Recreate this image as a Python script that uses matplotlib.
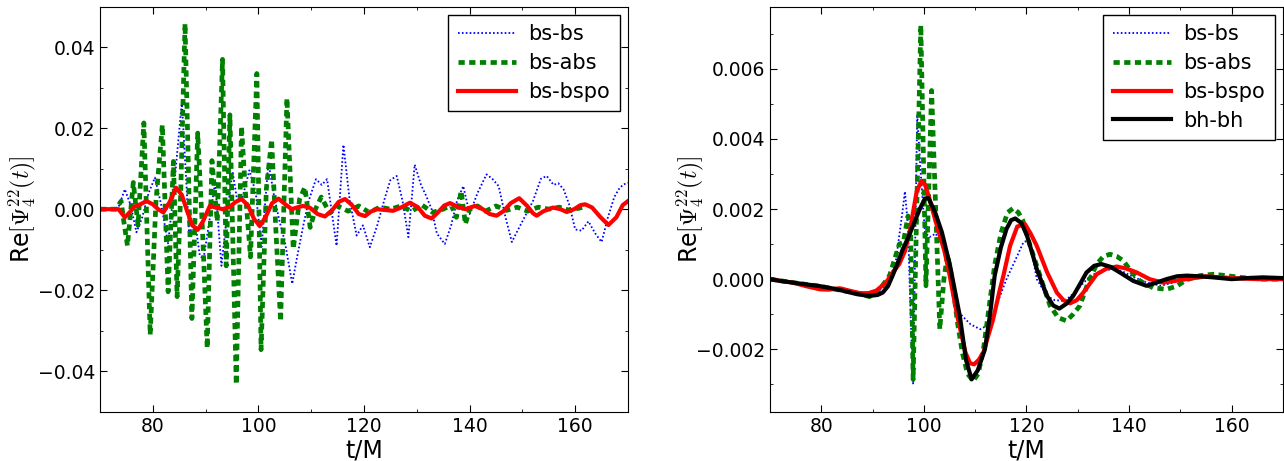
import matplotlib
matplotlib.use("Agg")
import matplotlib.pyplot as plt

plt.rcParams['font.family'] = ['DejaVu Sans']
plt.rcParams['mathtext.fontset'] = 'cm'
plt.rcParams['lines.scale_dashes'] = False

# ---- left panel: boson star runs ----
t_bs_L = [70, 72, 73.5, 74.7, 75.8, 76.9, 78.0, 79.2, 80.4, 81.6, 82.9, 84.2, 85.5, 86.2, 86.9,
          87.9, 88.9, 89.6, 90.7, 91.8, 93.0, 94.0, 95.1, 96.0, 97.0, 98.3, 99.5, 100.6, 101.9,
          103.0, 104.0, 105.0, 106.4, 107.3, 108.5, 109.5, 110.9, 112.0, 113.0, 114.8, 116.1,
          117.3, 118.6, 119.8, 121.1, 122.5, 124.0, 125.0, 126.2, 127.3, 128.4, 129.6, 130.8,
          131.8, 132.8, 133.8, 135.3, 136.5, 137.6, 138.8, 140.0, 141.5, 143.2, 144.3, 145.5,
          146.8, 148.0, 149.2, 150.4, 152.0, 153.5, 154.6, 155.9, 156.8, 157.8, 158.9, 160.0,
          161.2, 162.5, 163.8, 165.0, 166.2, 167.4, 168.3, 169.1, 170.0]
y_bs_L = [0.0, 0.0, 0.0005, 0.0049, 0.001, -0.0057, -0.002, 0.004, 0.0078, 0.001, -0.0086, 0.008,
          0.0265, 0.01, -0.0066, -0.002, -0.0115, -0.0123, -0.003, 0.0066, -0.014, -0.002, 0.0093,
          0.002, 0.003, 0.0096, 0.004, -0.0093, 0.0115, 0.003, -0.003, -0.008, -0.0184, -0.012,
          -0.004, 0.002, 0.0074, 0.006, 0.0074, -0.009, 0.0159, 0.002, -0.0065, -0.004, -0.0094,
          -0.004, 0.003, 0.0072, 0.0082, 0.002, -0.0069, 0.011, 0.006, 0.0032, 0.0, -0.006, -0.0086,
          -0.004, 0.002, 0.0057, -0.0012, 0.004, 0.0086, 0.0075, 0.0057, -0.002, -0.0081, -0.005,
          -0.002, 0.002, 0.0075, 0.0082, 0.006, 0.0064, 0.0049, 0.001, -0.005, -0.0053, -0.003,
          -0.006, -0.0081, -0.002, 0.003, 0.005, 0.0061, 0.0065]

t_abs_L = [70, 73, 74.0, 74.5, 75.2, 76.3, 77.2, 78.3, 79.5, 80.6, 81.8, 82.9, 83.9, 84.6, 85.3,
           86.1, 87.4, 88.5, 89.4, 90.3, 91.2, 92.2, 93.2, 93.9, 94.6, 95.8, 96.8, 97.6, 98.5,
           99.7, 100.5, 101.5, 102.5, 103.3, 104.2, 105.4, 106.6, 107.8, 108.8, 109.8, 110.8,
           111.9, 113.5, 115, 117, 119, 121, 123, 125, 127, 129, 131, 133, 135, 136.5, 137.5,
           138.4, 139.2, 140.0, 141.5, 143, 145, 147, 149, 151, 153, 155, 157, 159, 161.5]
y_abs_L = [0.0, 0.0, 0.002, -0.003, -0.009, 0.0066, -0.004, 0.0213, -0.031, 0.002, 0.0208, -0.0204,
           0.0118, -0.0216, 0.005, 0.0458, -0.027, 0.0188, -0.005, -0.0343, 0.012, -0.003, 0.037,
           -0.014, 0.0233, -0.0433, 0.0204, 0.003, -0.0118, 0.0335, -0.0347, 0.005, 0.0172, -0.005,
           -0.0277, 0.0274, -0.0098, 0.0025, 0.0054, -0.0045, 0.0, 0.003, -0.001, 0.0008, -0.0005,
           0.0008, -0.0008, 0.0005, 0.0, 0.0008, -0.0005, 0.001, -0.0008, 0.0, 0.001, -0.002,
           0.0045, -0.0037, 0.0, 0.0008, -0.0005, 0.0008, -0.0003, 0.0005, -0.0005, 0.0005, 0.0,
           0.0005, -0.0003, 0.0005]

t_bspo_L = [70, 73.5, 74.7, 75.6, 76.5, 77.6, 78.8, 80.0, 81.0, 82.0, 83.2, 84.4, 85.5, 86.5, 87.5,
            88.5, 89.5, 90.8, 92.0, 93.2, 94.5, 95.7, 96.8, 98.0, 99.2, 100.3, 101.4, 102.6, 103.8,
            105.0, 106.3, 107.5, 108.5, 109.8, 111.2, 112.6, 114.0, 115.2, 116.4, 117.6, 119.0,
            120.2, 121.3, 122.4, 124.0, 125.5, 127.0, 128.7, 130.2, 131.5, 132.8, 134.0, 135.2,
            136.3, 137.7, 139.2, 141.0, 142.5, 143.8, 145.1, 146.4, 147.8, 149.4, 150.9, 152.0,
            152.7, 154.0, 155.8, 157.2, 158.4, 159.8, 161.0, 161.9, 163.2, 164.8, 166.3, 167.8,
            169.0, 170.0]
y_bspo_L = [0.0, 0.0, -0.002, -0.0008, 0.0006, 0.0012, 0.002, 0.0012, 0.0, -0.0008, 0.0018, 0.0053,
            0.0035, -0.0005, -0.004, -0.0051, -0.003, 0.0008, 0.0004, 0.0, 0.0005, 0.0018, 0.0025,
            0.001, -0.0025, -0.0041, -0.0018, 0.0015, 0.0026, 0.0013, 0.0, 0.0005, 0.0008, 0.0003,
            -0.0012, -0.0018, -0.0002, 0.0018, 0.0025, 0.0012, -0.0012, -0.0017, -0.0006, 0.0,
            -0.0002, -0.0004, 0.0004, 0.0016, 0.0005, -0.0016, -0.0023, -0.0008, 0.0009, 0.0015,
            0.0006, 0.0, 0.0008, 0.0, -0.0012, -0.0016, -0.0005, 0.0015, 0.0027, 0.0008, -0.001,
            -0.0016, -0.0005, 0.0004, 0.0, -0.0007, 0.0, 0.001, 0.0012, 0.0004, -0.002, -0.0039,
            -0.002, 0.001, 0.002]

# ---- right panel: with black hole reference ----
t_bs_R = [70, 74.5, 79.7, 84.2, 87.5, 89.4, 91.5, 93.0, 94.5, 95.8, 96.3, 96.9, 97.4, 97.9, 98.3,
          98.7, 99.3, 100.2, 101.1, 102.3, 103.6, 105.2, 106.8, 109.1, 111.0, 112.6, 113.5, 114.8,
          116.1, 118.0, 119.4, 120.2, 121.0, 122.0, 124.0, 125.5, 127.3, 128.5, 129.9, 132.5,
          135.0, 137.1, 139.0, 141.0, 143.5, 146.2, 148.5, 151.4, 156.5, 160, 165, 170]
y_bs_R = [0.0, -0.0001, -0.0002, -0.00033, -0.0004, -0.00048, -0.0003, -0.0001, 0.00048, 0.0019,
          0.0025, 0.0015, -0.001, -0.003, 0.001, 0.0047, 0.0032, 0.00133, 0.0012, 0.0013, 0.00095,
          0.0001, -0.00095, -0.00129, -0.00143, -0.0013, -0.001, -0.0005, 0.0, 0.0006, 0.00105,
          0.0011, 0.0008, 0.0, -0.00048, -0.0006, -0.00062, -0.0005, -0.00029, 0.0001, 0.00025,
          0.00029, 0.0002, 0.00005, -0.0001, -0.00019, -0.0001, 0.0, 0.00005, 0.0, 0.0, 0.0]

t_abs_R = [70, 74.5, 79.7, 84.2, 87, 89.4, 91.4, 93.3, 95.2, 96.0, 96.9, 97.4, 97.9, 98.6, 99.4,
           100.4, 101.5, 102.3, 103.1, 103.9, 104.6, 105.5, 106.5, 107.5, 108.5, 109.6, 110.6,
           111.7, 112.7, 113.8, 115.0, 116.3, 117.4, 118.4, 119.3, 120.6, 122.0, 123.3, 124.6,
           126.2, 127.8, 129.1, 130.4, 132.0, 133.7, 135.0, 136.3, 137.6, 138.9, 140.5, 142.1,
           144.7, 147.3, 149.3, 151.2, 153.8, 156.4, 159, 161.6, 166.1, 170]
y_abs_R = [0.0, -0.0001, -0.0002, -0.00033, -0.0004, -0.0005, -0.00029, 0.0001, 0.001, 0.00105,
           0.0018, 0.0015, -0.00286, 0.002, 0.00724, -0.00019, 0.00538, 0.002, -0.00143, 0.0,
           0.0007, 0.0, -0.0012, -0.0021, -0.0027, -0.0029, -0.0027, -0.0019, -0.0008, 0.0004,
           0.0013, 0.0019, 0.00202, 0.0019, 0.00167, 0.001, 0.00038, -0.0002, -0.00076, -0.0011,
           -0.00119, -0.001, -0.00076, -0.0001, 0.00043, 0.00065, 0.00071, 0.00065, 0.00052,
           0.0002, -0.00005, -0.00025, -0.00029, -0.0002, -0.00002, 0.0001, 0.00014, 0.0001,
           0.00005, 0.0, 0.0]

t_bspo_R = [70, 72, 74.5, 77, 79.7, 81.5, 83.6, 85.5, 87.5, 89.2, 90.7, 92.6, 94.0, 95.2, 96.3,
            97.2, 98.0, 98.6, 99.5, 100.2, 100.9, 102.0, 102.9, 104.0, 104.9, 106.5, 108.1, 109.0,
            109.8, 110.7, 111.6, 113.5, 114.8, 115.5, 116.8, 118.2, 119.7, 120.8, 122.0, 124.0,
            125.9, 127.2, 128.5, 129.8, 131.1, 133.7, 135.6, 137.6, 139.5, 141.5, 144, 146.6, 149,
            151.2, 155, 160, 165, 170]
y_bspo_R = [0.0, -0.00005, -0.0001, -0.0002, -0.00029, -0.0003, -0.00026, -0.00033, -0.0004,
            -0.0004, -0.00033, -0.0001, 0.0002, 0.00043, 0.0008, 0.00133, 0.002, 0.0025, 0.0028,
            0.0027, 0.00238, 0.0018, 0.00134, 0.0008, 0.0002, -0.00105, -0.00209, -0.0024,
            -0.00243, -0.0023, -0.00209, -0.00114, -0.0003, 0.0001, 0.00095, 0.0015, 0.00157,
            0.0013, 0.00095, 0.0002, -0.00038, -0.0006, -0.00069, -0.0006, -0.00038, 0.00014,
            0.0003, 0.00036, 0.0003, 0.00019, 0.0, -0.0001, -0.00005, 0.0, 0.00008, 0.00003, 0.0, 0.0]

t_bh_R = [70, 72, 74.5, 77, 79.7, 82, 84.2, 87, 89.4, 91, 92, 93, 93.9, 95, 95.9, 97, 97.8, 99.2,
          100.2, 100.9, 102.2, 103.5, 105.1, 107.0, 108.2, 109.3, 110.5, 111.9, 112.9, 113.8,
          115.0, 116.1, 117.0, 117.8, 119.0, 120.1, 121.0, 122.0, 123.0, 124.0, 125.2, 126.4,
          127.8, 129.1, 130.4, 131.7, 133.2, 134.6, 136.4, 138.2, 140.8, 143.4, 145.3, 147.3,
          149.3, 151.2, 153.8, 156.4, 160, 163, 166, 170]
y_bh_R = [0.0, -0.00005, -0.0001, -0.00015, -0.0002, -0.00026, -0.00033, -0.00043, -0.00048,
          -0.00045, -0.00038, -0.0002, 0.0001, 0.0005, 0.00086, 0.0012, 0.0015, 0.002, 0.0023,
          0.00231, 0.0019, 0.00134, 0.00038, -0.00105, -0.0023, -0.00286, -0.0026, -0.002, -0.001,
          0.0001, 0.0009, 0.00143, 0.00168, 0.00173, 0.0016, 0.00124, 0.0008, 0.00029, -0.0001,
          -0.00048, -0.00075, -0.00084, -0.0007, -0.00048, -0.00015, 0.00019, 0.00038, 0.00043,
          0.00035, 0.00019, -0.00005, -0.00019, -0.0001, 0.0, 0.00008, 0.0001, 0.00008, 0.00005,
          0.0, 0.00003, 0.00005, 0.00003]

ylab = r'Re$[\Psi_4^{22}(t)]$'

fig = plt.figure(figsize=(12.84, 4.61), dpi=100)
ax1 = fig.add_axes([0.0779, 0.107, 0.4112, 0.8785])
ax2 = fig.add_axes([0.5997, 0.107, 0.3995, 0.8785])

blue_kw = dict(color='blue', lw=1.3, dashes=(1.2, 1.6))
green_kw = dict(color='green', lw=3.4, dashes=(4.5, 3.2))
red_kw = dict(color='red', lw=3)
black_kw = dict(color='black', lw=3)

ax1.plot(t_bs_L, y_bs_L, label='bs-bs', **blue_kw)
ax1.plot(t_abs_L, y_abs_L, label='bs-abs', **green_kw)
ax1.plot(t_bspo_L, y_bspo_L, label='bs-bspo', **red_kw)
ax1.set_ylim(-0.05, 0.05)
ax1.set_yticks([-0.04, -0.02, 0.0, 0.02, 0.04])
ax1.set_yticks([-0.05, -0.03, -0.01, 0.01, 0.03, 0.05], minor=True)

ax2.plot(t_bs_R, y_bs_R, label='bs-bs', **blue_kw)
ax2.plot(t_abs_R, y_abs_R, label='bs-abs', **green_kw)
ax2.plot(t_bspo_R, y_bspo_R, label='bs-bspo', **red_kw)
ax2.plot(t_bh_R, y_bh_R, label='bh-bh', **black_kw)
ax2.set_ylim(-0.00378, 0.00777)
ax2.set_yticks([-0.002, 0.0, 0.002, 0.004, 0.006])
ax2.set_yticks([-0.003, -0.001, 0.001, 0.003, 0.005, 0.007], minor=True)

for ax, lab_x in ((ax1, -0.117), (ax2, -0.125)):
    ax.set_xlim(70, 170)
    ax.set_xticks([80, 100, 120, 140, 160])
    ax.set_xticks([70, 90, 110, 130, 150, 170], minor=True)
    ax.tick_params(which='both', direction='in', top=True, right=True, labelsize=13.5)
    ax.tick_params(which='major', length=5)
    ax.tick_params(which='minor', length=2.5)
    ax.set_xlabel('t/M', fontsize=17, labelpad=2)
    ax.set_ylabel(ylab, fontsize=17)
    ax.yaxis.set_label_coords(lab_x, 0.5)
    leg = ax.legend(loc='upper right', fontsize=15, fancybox=False, framealpha=1,
                    edgecolor='black', borderaxespad=0.4, labelspacing=0.42,
                    handlelength=2.8, handletextpad=0.6, borderpad=0.45)
    leg.get_frame().set_linewidth(1.0)

fig.savefig('out.png', dpi=100)
